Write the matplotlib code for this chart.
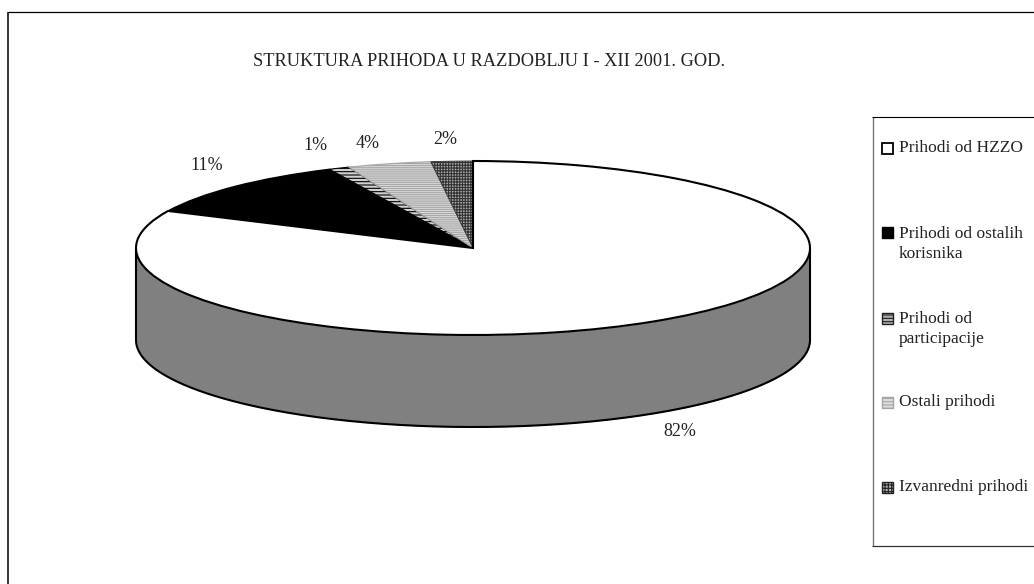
import matplotlib
matplotlib.use('Agg')
import matplotlib.pyplot as plt
import numpy as np

#------------ DATA ----------------------------
title = 'STRUKTURA PRIHODA U RAZDOBLJU I - XII 2001. GOD.'
values = [82, 11, 1, 4, 2]
pct_labels = ['82%', '11%', '1%', '4%', '2%']
legend_labels = ['Prihodi od HZZO', 'Prihodi od ostalih\nkorisnika', 'Prihodi od\nparticipacije',
                 'Ostali prihodi', 'Izvanredni prihodi']

plt.rcParams['font.family'] = ['Liberation Serif', 'DejaVu Serif']
plt.rcParams['hatch.linewidth'] = 0.8
plt.rcParams['lines.solid_capstyle'] = 'butt'

W, H = 1034, 584
fig = plt.figure(figsize=(W / 100, H / 100), dpi=100)

# Background axes in pixel coordinates, for frame, title and legend.
bg = fig.add_axes([0, 0, 1, 1])
bg.set_xlim(0, W)
bg.set_ylim(H, 0)
bg.axis('off')

#------------ FRAME ----------------------------
bg.plot([8, 8], [12, H], color='#333333', lw=1.4, zorder=1)
bg.plot([8, W], [12, 12], color='black', lw=0.9, zorder=1)
bg.plot([872.5, 872.5], [117, 546], color='#777777', lw=1.0, zorder=1)
bg.plot([872, W], [117, 117], color='black', lw=0.8, zorder=1)
bg.plot([872, W], [546, 546], color='#333333', lw=0.9, zorder=1)

bg.text(253, 62, title, ha='left', va='center', fontsize=13.2, color='#222222')

#------------ PIE ----------------------------
cx, cy, rx, ry, depth = 473, 248, 337, 87, 92

pie = fig.add_axes([(cx - rx) / W, 1 - (cy + ry) / H, 2 * rx / W, 2 * ry / H])
pie.patch.set_alpha(0)

styles = [
    dict(facecolor='white', edgecolor='black', linewidth=1.5),
    dict(facecolor='black', edgecolor='black', linewidth=1.0),
    dict(facecolor='#d0d0d0', edgecolor='black', hatch='-----', linewidth=0.8),
    dict(facecolor='#dcdcdc', edgecolor='#a6a6a6', hatch='--------', linewidth=0.8),
    dict(facecolor='#a8a8a8', edgecolor='#333333', hatch='++++++', linewidth=0.6),
]

wedges, _ = pie.pie(values, startangle=90, counterclock=False, radius=1, center=(0, 0),
                    colors=['white'] * len(values))
for w, st in zip(wedges, styles):
    w.set(**st)
    w.set_clip_on(False)
    w.set_zorder(3)
# The white slice keeps its black outline on top of the neighbours.
wedges[0].set_zorder(4)

pie.set_aspect('auto')
pie.set_xlim(-1, 1)
pie.set_ylim(-1, 1)
pie.axis('off')

# Side wall: front half of the ellipse shifted down by the depth.
t = np.linspace(np.pi, 2 * np.pi, 240)
d = depth / ry
pie.fill_between(np.cos(t), np.sin(t), np.sin(t) - d, color='#808080', lw=0, zorder=1, clip_on=False)
pie.plot(np.cos(t), np.sin(t) - d, color='black', lw=1.5, zorder=2, clip_on=False)
pie.plot([-1, -1], [0, -d], color='black', lw=1.5, zorder=2, clip_on=False)
pie.plot([1, 1], [0, -d], color='black', lw=1.5, zorder=2, clip_on=False)

#------------ LABELS ----------------------------
label_pos = [(680, 432), (207, 166), (315, 146), (368, 143), (445, 139)]
for txt, (x, y) in zip(pct_labels, label_pos):
    bg.text(x, y, txt, ha='center', va='center', fontsize=13, color='#222222', zorder=5)

#------------ LEGEND ----------------------------
legend_y = [148, 244, 329, 402, 487]
swatch_y = [143, 227, 313, 397, 482]
swatches = [
    dict(facecolor='white', edgecolor='black', linewidth=1.3),
    dict(facecolor='black', edgecolor='black', linewidth=1.0),
    dict(facecolor='#b0b0b0', edgecolor='#222222', hatch='-----', linewidth=1.0),
    dict(facecolor='#dcdcdc', edgecolor='#a6a6a6', hatch='-----', linewidth=1.0),
    dict(facecolor='#b0b0b0', edgecolor='#222222', hatch='+++++', linewidth=1.0),
]
for lab, y, sy, sw in zip(legend_labels, legend_y, swatch_y, swatches):
    bg.add_patch(plt.Rectangle((882, sy), 11, 11, **sw))
    bg.text(899, y, lab, ha='left', va='center', fontsize=12.5, color='#222222', linespacing=1.35)

fig.savefig('out.png', dpi=100)
